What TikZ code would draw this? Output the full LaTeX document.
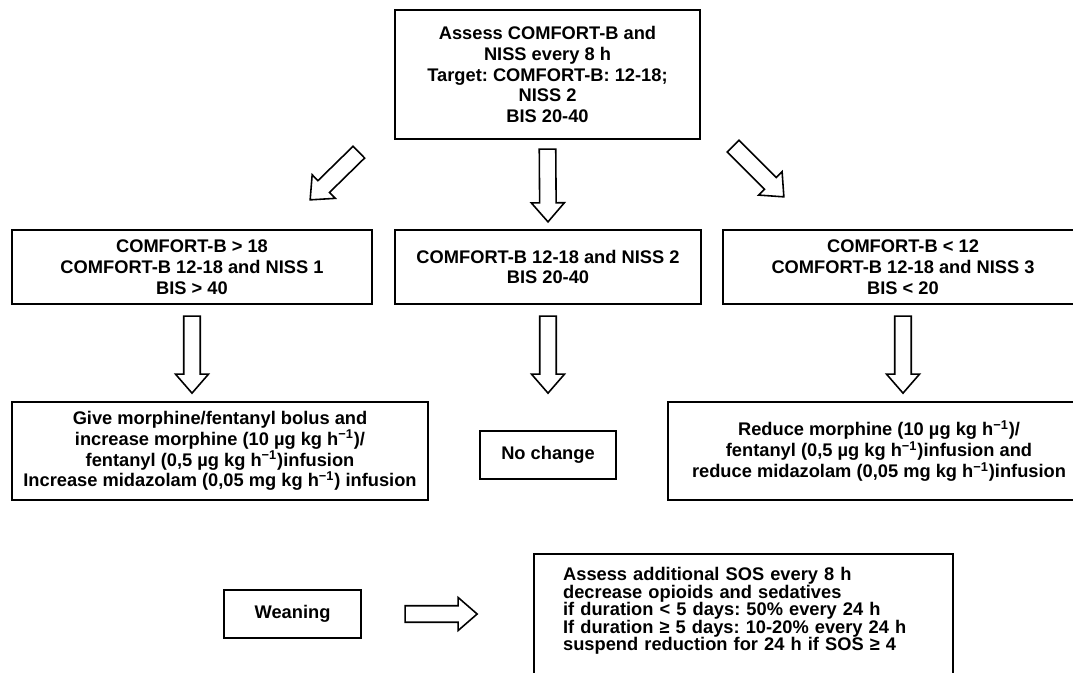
\documentclass[tikz,border=0pt]{standalone}
\usepackage{fontspec}
\setmainfont{Liberation Sans}
\frenchspacing
\usetikzlibrary{calc}
\newcommand{\inv}{h\textsuperscript{−1}}
% hollow block arrow from #1 to #2
\newcommand{\fatarrow}[2]{%
  \path ($(#2)!0.38cm!(#1)$) coordinate (fa);
  \draw[blockarrow] ($(#1)!0.165cm!90:(#2)$) -- ($(fa)!0.165cm!90:(#2)$)
    -- ($(fa)!0.33cm!90:(#2)$) -- (#2) -- ($(fa)!0.33cm!-90:(#2)$)
    -- ($(fa)!0.165cm!-90:(#2)$) -- ($(#1)!0.165cm!-90:(#2)$) -- cycle;}

\begin{document}
\begin{tikzpicture}[
    box/.style={draw, line width=1.3pt, align=center, inner sep=0pt,
      font=\bfseries\fontsize{10.4}{11.8}\selectfont},
    blockarrow/.style={line width=0.9pt, line join=miter}]
  \useasboundingbox (0,0) rectangle (21.46,-13.46);
  % assessment
  \node[box, minimum width=6.1cm, minimum height=2.58cm] (top) at (10.95,-1.49)
    {Assess COMFORT-B and\\ NISS every 8 h\\ Target: COMFORT-B: 12-18;\\ NISS 2\\ BIS 20-40};
  % scores
  \node[box, minimum width=7.2cm, minimum height=1.48cm] (left2) at (3.84,-5.34)
    {COMFORT-B > 18\\ COMFORT-B 12-18 and NISS 1\\ BIS > 40};
  \node[box, minimum width=6.12cm, minimum height=1.48cm] (mid2) at (10.96,-5.34)
    {COMFORT-B 12-18 and NISS 2\\ BIS 20-40};
  \node[box, minimum width=7.2cm, minimum height=1.48cm] (right2) at (18.06,-5.34)
    {COMFORT-B < 12\\ COMFORT-B 12-18 and NISS 3\\ BIS < 20};
  % actions
  \node[box, minimum width=8.32cm, minimum height=1.96cm] (left3) at (4.4,-9.02)
    {Give morphine/fentanyl bolus and\\ increase morphine (10 µg kg \inv)/\\
     fentanyl (0,5 µg kg \inv)infusion\\ Increase midazolam (0,05 mg kg \inv) infusion};
  \node[box, minimum width=2.72cm, minimum height=0.96cm] (mid3) at (10.96,-9.1) {No change};
  \node[box, minimum width=8.44cm, minimum height=1.96cm] (right3) at (17.58,-9.02)
    {Reduce morphine (10 µg kg \inv)/\\ fentanyl (0,5 µg kg \inv)infusion and\\
     reduce midazolam (0,05 mg kg \inv)infusion};
  % weaning
  \node[box, minimum width=2.74cm, minimum height=0.96cm] (wean) at (5.85,-12.28) {Weaning};
  \node[box, anchor=north west, align=left, text width=7.22cm, inner xsep=0.58cm,
    inner ysep=0.27cm, text depth=1.73cm, font=\bfseries\fontsize{10.4}{9.9}\selectfont]
    (sos) at (10.66,-11.06)
    {Assess additional SOS every 8 h\\ decrease opioids and sedatives\\
     if duration < 5 days: 50\% every 24 h\\ If duration ≥ 5 days: 10-20\% every 24 h\\
     suspend reduction for 24 h if SOS ≥ 4};
  % arrow ends
  \coordinate (t1) at ($(top.south west)+(-0.7,-0.24)$);
  \coordinate (h1) at ($(left2.north east)+(-1.26,0.58)$);
  \coordinate (t2) at ($(top.south)+(0,-0.18)$);
  \coordinate (h2) at ($(mid2.north)+(0,0.14)$);
  \coordinate (t3) at ($(top.south east)+(0.64,-0.12)$);
  \coordinate (h3) at ($(right2.north west)+(1.24,0.64)$);
  \fatarrow{t1}{h1}
  \fatarrow{t2}{h2}
  \fatarrow{t3}{h3}
  \foreach \n in {left2, mid2, right2} {
    \coordinate (a) at ($(\n.south)+(0,-0.22)$);
    \coordinate (b) at ($(\n.south)+(0,-1.76)$);
    \fatarrow{a}{b}
  }
  \coordinate (t4) at ($(wean.east)+(0.86,0)$);
  \coordinate (h4) at ($(wean.east)+(2.3,0)$);
  \fatarrow{t4}{h4}
\end{tikzpicture}
\end{document}
